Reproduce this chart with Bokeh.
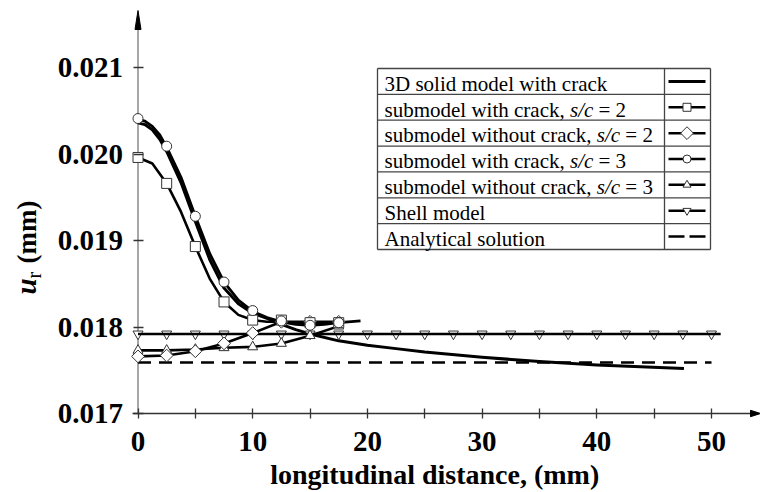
import math
from bokeh.plotting import figure
from bokeh.models import Range1d, FixedTicker, PrintfTickFormatter, Label
from bokeh.embed import file_html
from bokeh.resources import INLINE

# ---------------- data ----------------
x_sub = [0, 2.5, 5, 7.5, 10, 12.5, 15, 17.5]
u_crack_sc2 = [0.01996, 0.01966, 0.01893, 0.01829, 0.01808, 0.01808, 0.01805, 0.01805]
u_nocrack_sc2 = [0.01766, 0.01767, 0.01772, 0.01781, 0.01793, 0.01806, 0.01806, 0.01806]
u_crack_sc3 = [0.02041, 0.02009, 0.01928, 0.01852, 0.01819, 0.01807, 0.01802, 0.01805]
u_nocrack_sc3 = [0.01773, 0.01773, 0.01774, 0.01776, 0.01777, 0.01781, 0.01790, 0.01801]

# smooth fitted curves through the submodel results
x_fit_sc2 = [0, 1.25, 2.5, 3.75, 5, 6.25, 7.5, 8.75, 10, 11.25, 12.5, 13.75, 15, 16.25, 17.5]
u_fit_sc2 = [0.01996, 0.01989, 0.01966, 0.01933, 0.01893, 0.01856, 0.01829, 0.01814,
             0.01808, 0.01806, 0.01806, 0.01805, 0.01805, 0.01805, 0.01805]
x_fit_sc3 = [0, 0.6, 1.25, 1.9, 2.5, 3.75, 5, 6.25, 7.5, 8.75, 10, 11.25, 12.5, 13.75, 15, 16.25, 17.5, 19.4]
u_fit_sc3 = [0.02040, 0.02038, 0.02032, 0.02022, 0.02008, 0.01973, 0.01928, 0.01885, 0.01852, 0.01831,
             0.01818, 0.01811, 0.01806, 0.01803, 0.01802, 0.01803, 0.01805, 0.01807]

x_solid = [0, 0.6, 1.25, 1.9, 2.5, 3.75, 5, 6.25, 7.5, 8.75, 10, 11.25, 12.5, 13.75, 15, 17.5, 20, 22.5,
           25, 30, 35, 40, 47.6]
u_solid = [0.02036, 0.02034, 0.02028, 0.02017, 0.02003, 0.01967, 0.01922, 0.01878, 0.01845, 0.01827,
           0.01816, 0.01810, 0.01803, 0.01797, 0.01792, 0.01784, 0.01779, 0.01775, 0.01771, 0.01765,
           0.01760, 0.01756, 0.01752]

x_shell = [0, 2.5, 5, 7.5, 10, 12.5, 15, 17.5, 20, 22.5, 25, 27.5, 30, 32.5, 35, 37.5, 40, 42.5, 45, 47.5, 50]
u_shell = [0.01792, 0.01792, 0.01792, 0.01792, 0.01792, 0.01792, 0.01792, 0.01792, 0.01792, 0.01792,
           0.01792, 0.01792, 0.01792, 0.01792, 0.01792, 0.01792, 0.01792, 0.01792, 0.01792, 0.01792, 0.01792]
x_shell_line = [0, 50.8]
u_shell_line = [0.01792, 0.01792]

x_analytical = [0, 50]
u_analytical = [0.01759, 0.01759]

x_ticks = [0, 10, 20, 30, 40, 50]
x_minor_ticks = [5, 15, 25, 35, 45]
y_ticks = [0.017, 0.018, 0.019, 0.020, 0.021]

series_names = [
    "3D solid model with crack",
    "submodel with crack,",
    "submodel without crack,",
    "submodel with crack,",
    "submodel without crack,",
    "Shell model",
    "Analytical solution",
]
series_ratio = ["", "= 2", "= 2", "= 3", "= 3", "", ""]
x_label = "longitudinal distance, (mm)"

# ---------------- layout (pixels of the 761x492 picture) ----------------
FONT = "Liberation Serif"
W, H = 760, 491
PX_XZERO = 137.5    # picture x of distance 0
PX_PER_X = 11.47
PX_Y0 = 413.0       # picture y of u = 0.017
PX_PER_U = 86500.0
U_BASE = 0.017
BASE_FIX = 0.25     # em shift so that the rendered baseline lands on the target


def px2x(px):
    return (px - PX_XZERO) / PX_PER_X


def py2u(py):
    return U_BASE + (PX_Y0 - py) / PX_PER_U


p = figure(width=W, height=H, min_border=0,
           x_range=Range1d(px2x(0), px2x(W)),
           y_range=Range1d(py2u(H), py2u(0)),
           output_backend="svg", toolbar_location=None)
p.outline_line_color = None
p.grid.grid_line_color = None
p.background_fill_color = "white"
p.border_fill_color = "white"

# axes (ticks and tick labels from Bokeh axes, pinned at the data origin)
p.xaxis.fixed_location = U_BASE
p.yaxis.fixed_location = 0
p.xaxis.ticker = FixedTicker(ticks=x_ticks, minor_ticks=x_minor_ticks)
p.yaxis.ticker = FixedTicker(ticks=y_ticks)
p.yaxis.formatter = PrintfTickFormatter(format="%.3f")
for ax in (p.xaxis[0], p.yaxis[0]):
    ax.major_label_text_font = FONT
    ax.major_label_text_font_style = "bold"
    ax.major_label_text_font_size = "29px"
    ax.major_label_text_color = "black"
    ax.major_tick_in = 5
    ax.major_tick_out = 5
    ax.major_tick_line_color = "#333333"
    ax.major_tick_line_width = 1.3
    ax.axis_line_color = None
p.xaxis.minor_tick_in = 5
p.xaxis.minor_tick_out = 5
p.xaxis.minor_tick_line_color = "#333333"
p.xaxis.minor_tick_line_width = 1.3
p.yaxis.minor_tick_line_color = None
p.xaxis.major_label_standoff = 13
p.yaxis.major_label_standoff = 10

# axis lines with arrow heads
p.line([0, 0], [U_BASE, py2u(22)], line_color="#8a8a8a", line_width=1.5)
p.line([px2x(132), px2x(752)], [U_BASE, U_BASE], line_color="#333333", line_width=1.5)
p.patch([px2x(137.5 - 3), px2x(137.5), px2x(137.5 + 3)], [py2u(29), py2u(10), py2u(29)],
        fill_color="black", line_color="black", line_width=1)
p.patch([px2x(750), px2x(760), px2x(750)], [py2u(413 - 3.2), py2u(413), py2u(413 + 3.2)],
        fill_color="black", line_color="black", line_width=1)

MK_LINE = "#333333"

# curves
p.line(x_analytical, u_analytical, line_color="black", line_width=2.5, line_dash="13 8")
p.line(x_solid, u_solid, line_color="black", line_width=3, line_join="round")
p.line(x_fit_sc2, u_fit_sc2, line_color="black", line_width=2.6, line_join="round")
p.line(x_fit_sc3, u_fit_sc3, line_color="black", line_width=2.8, line_join="round")
p.line(x_sub, u_nocrack_sc2, line_color="black", line_width=2.6, line_join="round")
p.line(x_sub, u_nocrack_sc3, line_color="black", line_width=2.6, line_join="round")

p.scatter(x_shell, u_shell, marker="inverted_triangle", size=10, fill_color="white",
          line_color=MK_LINE, line_width=1)
p.line(x_shell_line, u_shell_line, line_color="black", line_width=2.5)

p.scatter(x_sub, u_nocrack_sc3, marker="triangle", size=10, fill_color="white",
          line_color=MK_LINE, line_width=1)
p.scatter(x_sub, u_nocrack_sc2, marker="square", angle=math.pi / 4, size=9, fill_color="white",
          line_color=MK_LINE, line_width=1)
p.scatter(x_sub, u_crack_sc2, marker="square", size=10, fill_color="white",
          line_color=MK_LINE, line_width=1)
p.scatter(x_sub, u_crack_sc3, marker="circle", size=10, fill_color="white",
          line_color=MK_LINE, line_width=1)

# ---------------- legend table ----------------
LG_L, LG_R, LG_T, LG_B, LG_DIV = 377, 710, 68, 249, 664
n_rows = len(series_names)
row_h = (LG_B - LG_T) / n_rows
grid_x0, grid_y0, grid_x1, grid_y1 = [], [], [], []
for k in range(n_rows + 1):
    yy = py2u(LG_T + k * row_h)
    grid_x0.append(px2x(LG_L)); grid_x1.append(px2x(LG_R))
    grid_y0.append(yy); grid_y1.append(yy)
for xx in (LG_L, LG_DIV, LG_R):
    grid_x0.append(px2x(xx)); grid_x1.append(px2x(xx))
    grid_y0.append(py2u(LG_T)); grid_y1.append(py2u(LG_B))
p.segment(grid_x0, grid_y0, grid_x1, grid_y1, line_color="#444444", line_width=1.3)

sample_styles = [
    (None, 0, 3),
    ("square", 8, 2.5),
    ("diamond", 9, 2.5),
    ("circle", 8, 2.5),
    ("triangle", 8, 2.5),
    ("inverted_triangle", 8, 2.5),
    ("dash", 0, 2.5),
]
S_X0, S_X1, S_XM = 668, 705, 686.5
for i, (mk, sz, lw) in enumerate(sample_styles):
    yc = py2u(LG_T + (i + 0.5) * row_h)
    if mk == "dash":
        p.line([px2x(S_X0), px2x(S_X1)], [yc, yc], line_color="black", line_width=lw, line_dash="16 5")
        continue
    p.line([px2x(S_X0), px2x(S_X1)], [yc, yc], line_color="black", line_width=lw)
    if mk is None:
        continue
    if mk == "diamond":
        p.scatter([px2x(S_XM)], [yc], marker="square", angle=math.pi / 4, size=sz,
                  fill_color="white", line_color=MK_LINE, line_width=1)
    else:
        p.scatter([px2x(S_XM)], [yc], marker=mk, size=sz, fill_color="white",
                  line_color=MK_LINE, line_width=1)

LG_FS = 21
TXT_X = 384
ITAL_X = {"submodel with crack,": 569.5, "submodel without crack,": 596.3}
for i, name in enumerate(series_names):
    base = py2u(LG_T + i * row_h + 20.5 - BASE_FIX * LG_FS)
    p.add_layout(Label(x=px2x(TXT_X), y=base, text=name, text_font=FONT, text_font_size=f"{LG_FS}px",
                       text_baseline="alphabetic", text_align="left", text_color="black"))
    if series_ratio[i]:
        xi = ITAL_X[name]
        p.add_layout(Label(x=px2x(xi), y=base, text="s/c", text_font=FONT, text_font_size=f"{LG_FS}px",
                           text_font_style="italic", text_baseline="alphabetic", text_align="left",
                           text_color="black"))
        p.add_layout(Label(x=px2x(xi + 28.5), y=base, text=series_ratio[i], text_font=FONT,
                           text_font_size=f"{LG_FS}px", text_baseline="alphabetic", text_align="left",
                           text_color="black"))

# ---------------- axis titles ----------------
p.add_layout(Label(x=px2x(434.2), y=py2u(481 - BASE_FIX * 28), text=x_label, text_font=FONT,
                   text_font_size="28px", text_font_style="bold", text_align="center",
                   text_baseline="alphabetic", text_color="black"))
p.add_layout(Label(x=px2x(33 - BASE_FIX * 29), y=py2u(294), text="u", angle=math.pi / 2, text_font=FONT,
                   text_font_size="29px", text_font_style="bold italic", text_align="left",
                   text_baseline="alphabetic", text_color="black"))
p.add_layout(Label(x=px2x(38 - BASE_FIX * 20), y=py2u(278), text="r", angle=math.pi / 2, text_font=FONT,
                   text_font_size="20px", text_align="left",
                   text_baseline="alphabetic", text_color="black"))
p.add_layout(Label(x=px2x(33 - BASE_FIX * 27), y=py2u(263), text="(mm)", angle=math.pi / 2, text_font=FONT,
                   text_font_size="27px", text_font_style="bold", text_align="left",
                   text_baseline="alphabetic", text_color="black"))

open("out.html", "w").write(file_html(p, INLINE))
